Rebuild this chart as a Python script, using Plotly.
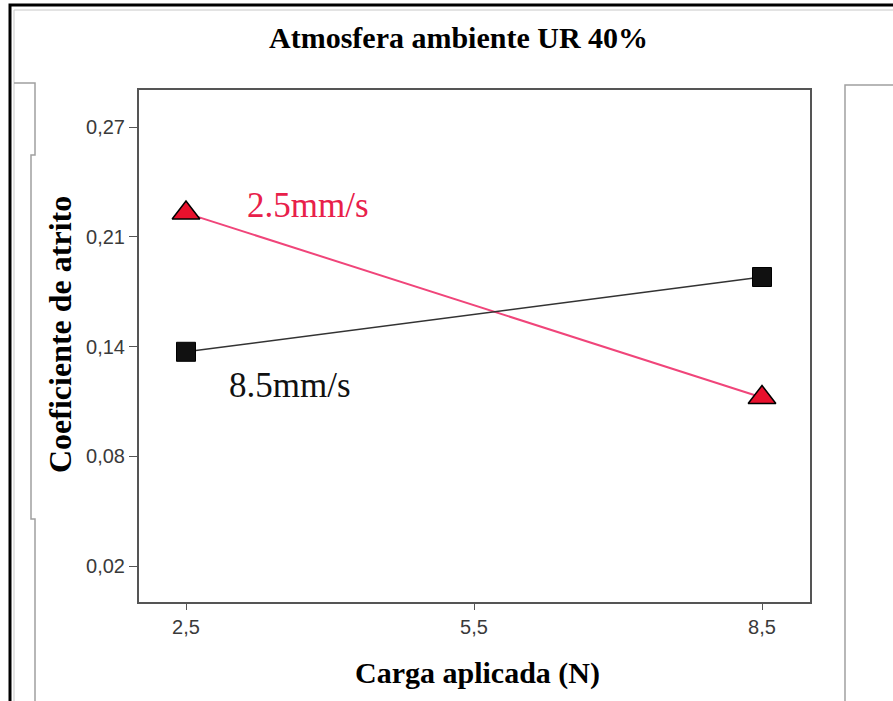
import plotly.graph_objects as go

# Applied load (N) and friction coefficient for each sliding speed
carga = [2.5, 8.5]
coef_2_5 = [0.221, 0.116]
coef_8_5 = [0.142, 0.1846]
serie_nomes = ["2.5mm/s", "8.5mm/s"]

x_ticks = [2.5, 5.5, 8.5]
x_tick_text = ["2,5", "5,5", "8,5"]
y_ticks = [0.02, 0.0825, 0.145, 0.2075, 0.27]
y_tick_text = ["0,02", "0,08", "0,14", "0,21", "0,27"]

W, H = 893, 701
L, R, T, B = 139, 810, 90, 602


def px(x):
    return (x - L) / (R - L)


def py(y):
    return (B - y) / (B - T)


def path(points):
    d = "M " + " L ".join(f"{px(x):.5f},{py(y):.5f}" for x, y in points)
    return d


SERIF = "Liberation Serif, Times New Roman, serif"
SANS = "Liberation Sans, Arial, sans-serif"

fig = go.Figure()

fig.add_trace(go.Scatter(
    x=carga, y=coef_2_5, mode="lines+markers", name=serie_nomes[0],
    line=dict(color="#f0457a", width=2),
    marker=dict(symbol="triangle-up", size=24, color="#e8112d",
                line=dict(color="black", width=1.5)),
    showlegend=False,
))
fig.add_trace(go.Scatter(
    x=carga, y=coef_8_5, mode="lines+markers", name=serie_nomes[1],
    line=dict(color="#333333", width=1.6),
    marker=dict(symbol="square", size=19, color="#111111",
                line=dict(color="black", width=1)),
    showlegend=False,
))

axis_common = dict(
    showline=True, linecolor="#555555", linewidth=2, mirror=True,
    showgrid=False, zeroline=False, ticks="outside", tickcolor="#555555",
    tickfont=dict(family=SANS, size=20, color="#3a3a3a"),
)

fig.update_xaxes(range=[2.0104, 9.0], tickvals=x_ticks, ticktext=x_tick_text,
                 ticklen=6, **axis_common)
fig.update_yaxes(range=[-0.0005, 0.2911], tickvals=y_ticks, ticktext=y_tick_text,
                 ticklen=8, **axis_common)

shapes = [
    # outer frame
    dict(type="path", xref="paper", yref="paper",
         path=path([(10, 710), (10, 5), (900, 5)]),
         line=dict(color="black", width=3)),
    dict(type="path", xref="paper", yref="paper",
         path=path([(14, 710), (14, 10), (900, 10)]),
         line=dict(color="#c8c8c8", width=1)),
    # neighbouring panel edges
    dict(type="path", xref="paper", yref="paper",
         path=path([(14, 83), (35, 83), (35, 155), (31, 155), (31, 519),
                    (35, 519), (35, 710)]),
         line=dict(color="#a0a0a0", width=1.5)),
    dict(type="path", xref="paper", yref="paper",
         path=path([(900, 85), (845, 85), (845, 710)]),
         line=dict(color="#a0a0a0", width=1.5)),
]

annotations = [
    dict(text="<b>Atmosfera ambiente UR 40%</b>", xref="paper", yref="paper",
         x=px(458), y=py(37), showarrow=False, xanchor="center", yanchor="middle",
         font=dict(family=SERIF, size=30, color="black")),
    dict(text="<b>Carga aplicada (N)</b>", xref="paper", yref="paper",
         x=px(478), y=py(673), showarrow=False, xanchor="center", yanchor="middle",
         font=dict(family=SERIF, size=30, color="black")),
    dict(text="<b>Coeficiente de atrito</b>", xref="paper", yref="paper",
         x=px(60), y=py(335), showarrow=False, xanchor="center", yanchor="middle",
         textangle=-90, font=dict(family=SERIF, size=32, color="black")),
    dict(text=serie_nomes[0], x=3.77, y=0.2255, xref="x", yref="y",
         showarrow=False, xanchor="center", yanchor="middle",
         font=dict(family=SERIF, size=35, color="#e8204a")),
    dict(text=serie_nomes[1], x=3.58, y=0.1227, xref="x", yref="y",
         showarrow=False, xanchor="center", yanchor="middle",
         font=dict(family=SERIF, size=35, color="#111111")),
]

fig.update_layout(
    width=W, height=H,
    margin=dict(l=L, r=W - R, t=T, b=H - B, pad=0),
    paper_bgcolor="white", plot_bgcolor="white",
    shapes=shapes, annotations=annotations,
)

fig.write_html("out.html")
